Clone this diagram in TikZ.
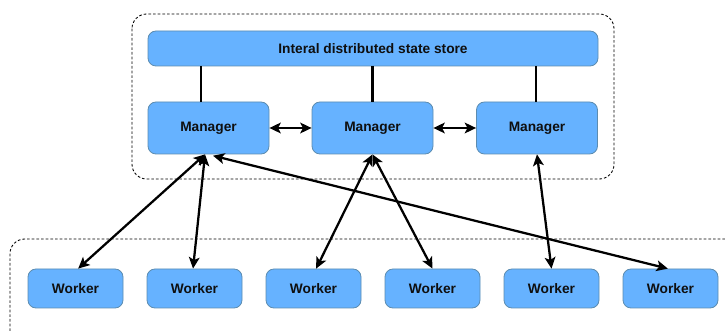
\documentclass[tikz,border=0pt]{standalone}
\usepackage{fontspec}
\setmainfont{Liberation Sans}
\usetikzlibrary{arrows.meta}
\definecolor{boxfill}{RGB}{102,178,255}
\definecolor{boxline}{RGB}{92,140,176}
\definecolor{boxtext}{RGB}{15,15,15}
\tikzset{
  box/.style={draw=boxline, line width=0.6pt, fill=boxfill, rounded corners=6pt,
    text=boxtext, font=\fontsize{10.3}{12}\selectfont\bfseries, inner sep=0pt},
  mgr/.style={box, minimum width=90.75pt, minimum height=39pt},
  wrk/.style={box, minimum width=71.25pt, minimum height=29.25pt},
  group/.style={draw=black, line width=0.65pt, dash pattern=on 2pt off 1.5pt, rounded corners=11pt},
  link/.style={draw=black, line width=1.7pt},
  both/.style={link, {Stealth[length=8.5pt,width=8pt,inset=2pt]}-{Stealth[length=8.5pt,width=8pt,inset=2pt]}}
}
\begin{document}
\begin{tikzpicture}[x=0.75pt,y=-0.75pt]
\useasboundingbox (0,0) rectangle (725,331);
\clip (0,0) rectangle (725,331);

% cluster outlines
\draw[group] (132,14) rectangle (614,179);
\draw[group] (10,239) rectangle (745,352);

% shared state store and managers
\node[box, minimum width=337.5pt, minimum height=26.25pt] (store) at (373,48.5) {Interal distributed state store};
\node[mgr] (m1) at (208.5,128) {Manager};
\node[mgr] (m2) at (372.5,128) {Manager};
\node[mgr] (m3) at (537,128) {Manager};

% workers
\node[wrk] (w1) at (75.5,288.5) {Worker};
\node[wrk] (w2) at (194.5,288.5) {Worker};
\node[wrk] (w3) at (313.5,288.5) {Worker};
\node[wrk] (w4) at (432.5,288.5) {Worker};
\node[wrk] (w5) at (551.5,288.5) {Worker};
\node[wrk] (w6) at (670.5,288.5) {Worker};

% managers attached to the store
\draw[link] ([xshift=-5.6pt]m1.north) -- ([xshift=-5.6pt]m1.north |- store.south);
\draw[link] (m2.north) -- (m2.north |- store.south);
\draw[link] ([xshift=-0.75pt]m3.north) -- ([xshift=-0.75pt]m3.north |- store.south);

% manager peering
\draw[both] (m1.east) -- (m2.west);
\draw[both] (m2.east) -- (m3.west);

% manager to worker links
\draw[both] ([xshift=-2.6pt]m1.south) -- ([xshift=2pt]w1.north);
\draw[both] ([xshift=-2.6pt]m1.south) -- ([xshift=-1.1pt]w2.north);
\draw[both] ([xshift=3.4pt,yshift=-1pt]m1.south) -- ([xshift=-2pt]w6.north);
\draw[both] (m2.south) -- ([xshift=2pt]w3.north);
\draw[both] (m2.south) -- (w4.north);
\draw[both] (m3.south) -- (w5.north);
\end{tikzpicture}
\end{document}
